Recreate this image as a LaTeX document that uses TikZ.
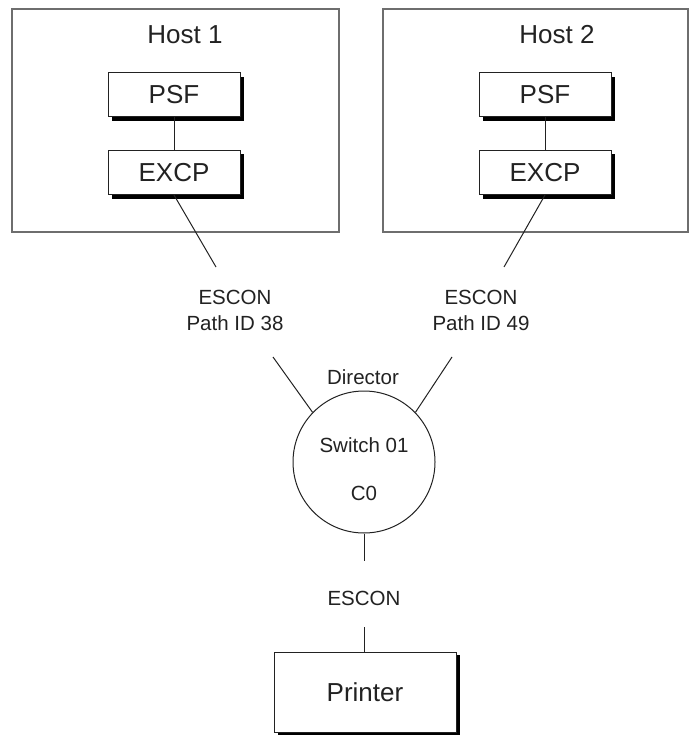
\documentclass[tikz,border=0pt]{standalone}
\usepackage{fontspec}
\setmainfont{Liberation Sans}
\definecolor{ink}{HTML}{222222}
\definecolor{hostline}{HTML}{6E6E6E}
\tikzset{
  hostbox/.style={draw=hostline, line width=1.3pt, minimum width=#1, minimum height=223pt, inner sep=0pt},
  modbox/.style={draw=ink, line width=1pt, fill=white, minimum width=132pt, minimum height=44pt, inner sep=0pt,
    font=\fontsize{26}{28}\selectfont, text=ink},
  bigtxt/.style={font=\fontsize{26}{28}\selectfont, text=ink, inner sep=0pt},
  smalltxt/.style={font=\fontsize{20.5}{26}\selectfont, text=ink, align=center, inner sep=0pt},
  conn/.style={draw=ink, line width=1pt},
  shadowfill/.style={fill=black, draw=none},
}
\begin{document}
\begin{tikzpicture}[x=1pt,y=-1pt]
\useasboundingbox (0,0) rectangle (696,735);
% hosts
\node[hostbox=327pt] (host1) at (175.5,120.5) {};
\node[hostbox=305pt] (host2) at (535.5,120.5) {};
\node[bigtxt] (h1lbl) at (185,35) {Host 1};
\node[bigtxt] (h2lbl) at (557,35) {Host 2};
% module shadows
\fill[shadowfill] (112,77) rectangle (244,121);
\fill[shadowfill] (112,154.5) rectangle (244,199);
\fill[shadowfill] (483,77) rectangle (615,121);
\fill[shadowfill] (483,154.5) rectangle (615,199);
\fill[shadowfill] (278,655) rectangle (459.5,734.5);
% modules
\node[modbox] (psf1) at (174,95) {PSF};
\node[modbox] (excp1) at (174,172.5) {EXCP};
\node[modbox] (psf2) at (545,95) {PSF};
\node[modbox] (excp2) at (545,172.5) {EXCP};
\draw[conn] (psf1.south) -- (excp1.north);
\draw[conn] (psf2.south) -- (excp2.north);
% ESCON labels
\node[smalltxt] (esc1) at (235,310) {ESCON\\Path ID 38};
\node[smalltxt] (esc2) at (481,310) {ESCON\\Path ID 49};
\coordinate (a1) at (216,267);
\coordinate (a2) at (504,267);
\coordinate (b1) at (273,357);
\coordinate (b2) at (452,357);
\draw[conn] (excp1.south) -- (a1);
\draw[conn] (excp2.south) -- (a2);
% director switch
\node[circle, draw=ink, line width=1pt, minimum size=142pt, inner sep=0pt] (sw) at (364,462) {};
\node[smalltxt] (dir) at (363,377) {Director};
\node[smalltxt] (swlbl) at (364,445) {Switch 01};
\node[smalltxt] (c0) at (364,493) {C0};
\draw[conn] (b1) -- (sw.136);
\draw[conn] (b2) -- (sw.44);
% printer link
\coordinate (d1) at (364,561);
\coordinate (d2) at (364,627);
\node[smalltxt] (esc3) at (364,598) {ESCON};
\node[draw=ink, line width=1pt, fill=white, minimum width=182pt, minimum height=80pt, inner sep=0pt,
  font=\fontsize{26}{28}\selectfont, text=ink] (printer) at (365,692) {Printer};
\draw[conn] (sw.south) -- (d1);
\draw[conn] (d2) -- (d2 |- printer.north);
\end{tikzpicture}
\end{document}
